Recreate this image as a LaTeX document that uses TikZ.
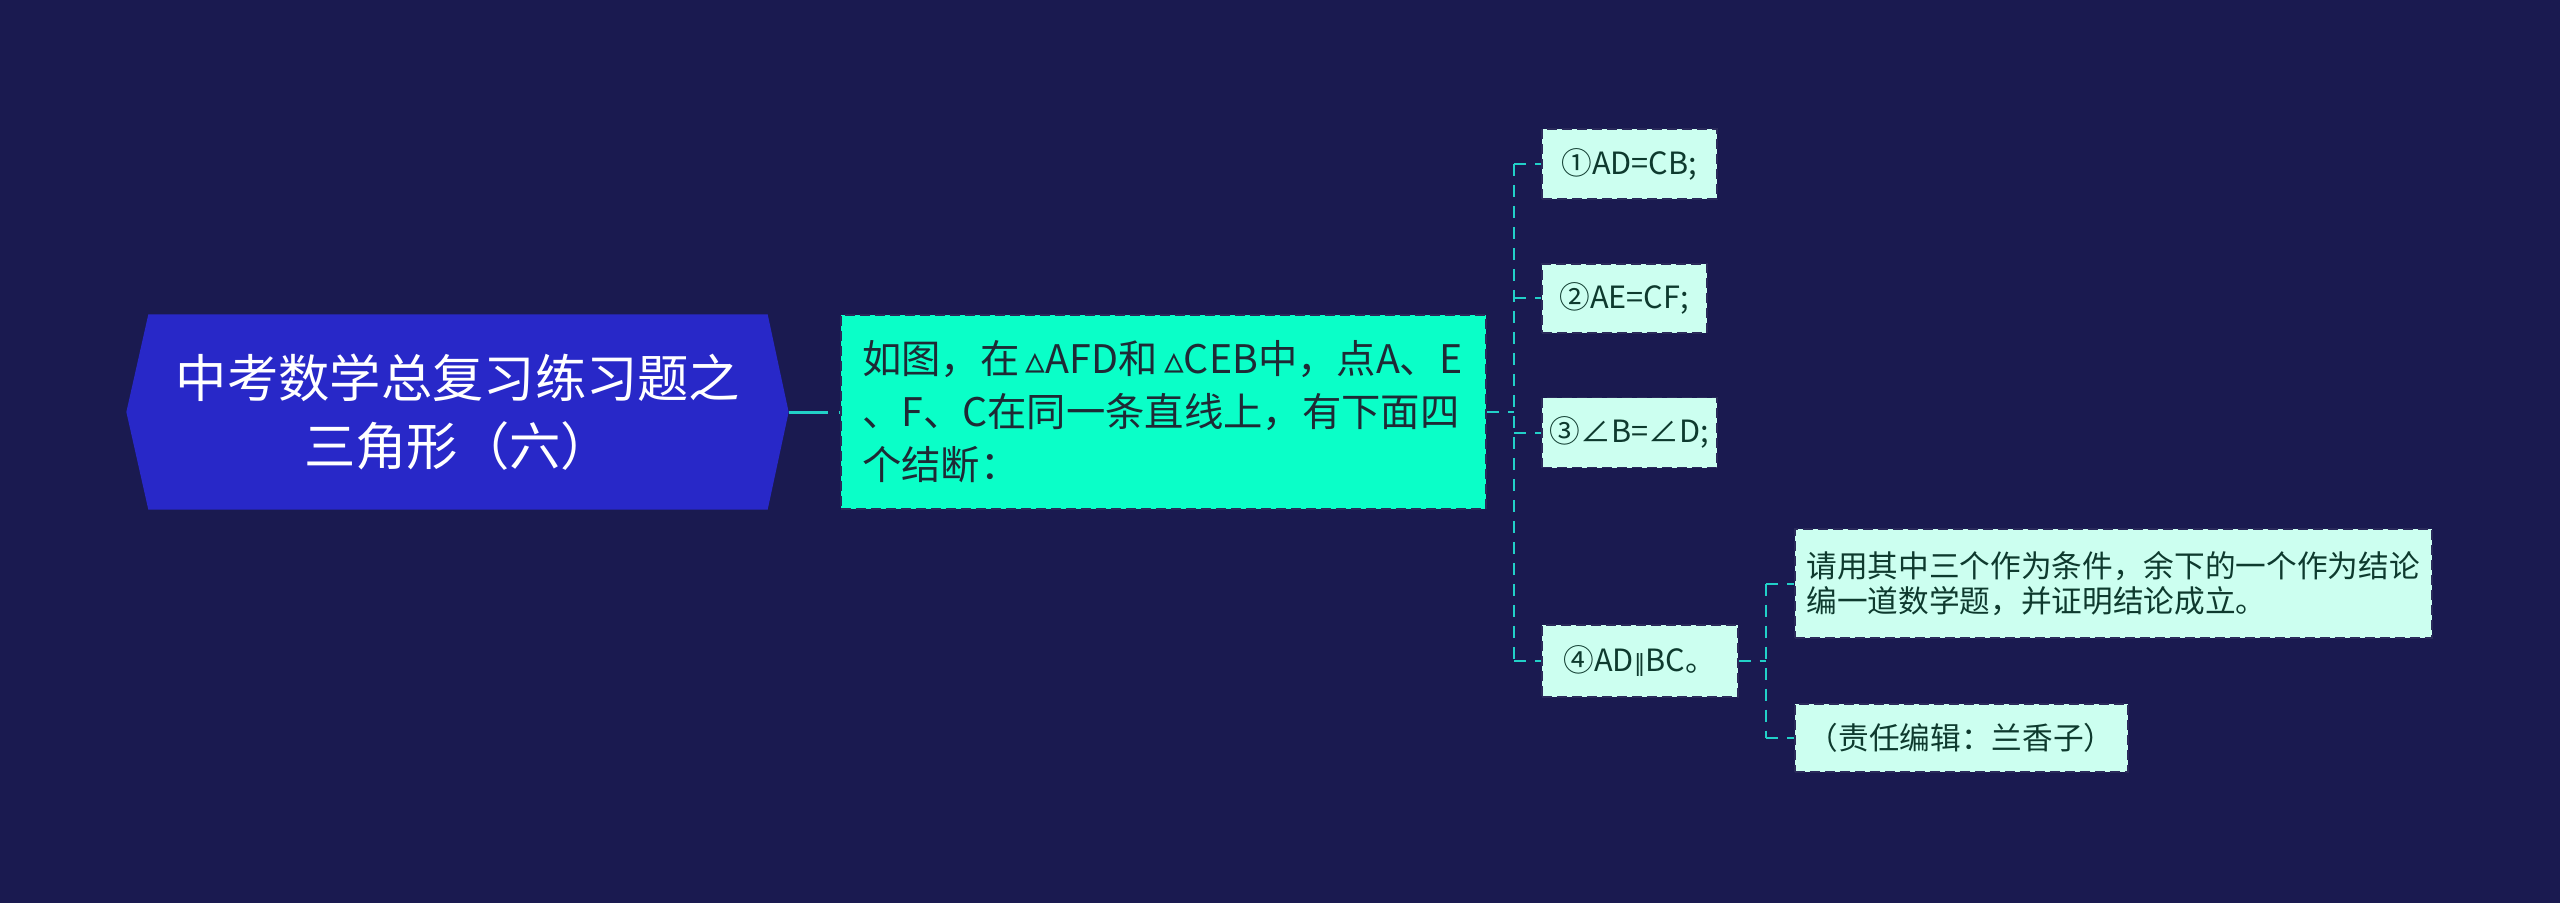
\documentclass[tikz,border=0pt]{standalone}
\usepackage{fontspec}
\newfontfamily\cjk{Noto Sans CJK SC}
\newfontfamily\dv{DejaVu Sans}
\usetikzlibrary{backgrounds}
\definecolor{bgc}{HTML}{1A1A50}
\definecolor{rootc}{HTML}{2828C8}
\definecolor{mainc}{HTML}{0AFFC8}
\definecolor{subc}{HTML}{CCFFF0}
\definecolor{linec}{HTML}{22D0C8}
\definecolor{bordc}{HTML}{2A2A5A}
\definecolor{maintext}{HTML}{1E2A35}
\definecolor{subtext}{HTML}{0E3A2E}
\begin{document}
\begin{tikzpicture}[x=0.3pt,y=-0.3pt,
  rootnode/.style={minimum width=185.4pt, minimum height=58.2pt, inner sep=0pt, align=center, text=white, font=\cjk\fontsize{15.4}{20.4}\selectfont},
  mainnode/.style={draw=bordc, line width=0.45pt, dash pattern=on 3pt off 1.5pt, fill=mainc, text width=180.9pt, inner xsep=6.3pt, inner ysep=0pt, minimum height=58.2pt, align=left, text=maintext, font=\cjk\fontsize{11.8}{15.9}\selectfont},
  subnode/.style={draw=bordc, line width=0.45pt, dash pattern=on 3pt off 1.5pt, fill=subc, inner sep=0pt, anchor=west, align=left, text=subtext, font=\cjk\fontsize{9.2}{10.5}\selectfont},
  conn/.style={draw=linec, line width=0.9pt, dash pattern=on 11.7pt off 3.3pt},
  thinconn/.style={draw=linec, line width=0.6pt, dash pattern=on 3.6pt off 2.7pt}
]
\useasboundingbox (0,0) rectangle (2560,903);
\begin{pgfonlayer}{background}
\fill[bgc] (0,0) rectangle (2560,903);
\end{pgfonlayer}

\node[rootnode] (root) at (458,412) {中考数学总复习练习题之\\三角形（六）};
\begin{pgfonlayer}{background}
\fill[rootc] (root.north west) -- (root.north east) -- ([xshift=6.3pt]root.east) -- (root.south east) -- (root.south west) -- ([xshift=-6.6pt]root.west) -- cycle;
\end{pgfonlayer}
\coordinate (rtip) at ([xshift=6.3pt]root.east);

\node[mainnode] (main) at (1163.5,412) {如图，在{\dv\,▵}AFD和{\dv\,▵}CEB中，点A、E\\、F、C在同一条直线上，有下面四\\个结断：};

\node[subnode, minimum width=52.5pt, minimum height=21pt] (s1) at (1541,164) {①AD=CB;};
\node[subnode, minimum width=49.5pt, minimum height=20.7pt] (s2) at (1541,298.5) {②AE=CF;};
\node[subnode, minimum width=52.5pt, minimum height=21pt] (s3) at (1541,432.5) {③∠B=∠D;};
\node[subnode, minimum width=58.8pt, minimum height=21.6pt] (s4) at (1541,661) {④AD{\dv\fontsize{7}{8}\selectfont ∥}BC。};
\node[subnode, minimum width=191.1pt, minimum height=32.7pt] (s5) at (1794,583.5) {请用其中三个作为条件，余下的一个作为结论\\编一道数学题，并证明结论成立。};
\node[subnode, minimum width=99.9pt, minimum height=20.4pt] (s6) at (1794,738) {（责任编辑：兰香子）};

\draw[conn] (rtip) -- (main.west);

\coordinate (j1) at (1514,412);
\draw[thinconn] (main.east) -- (j1);
\draw[thinconn] (j1 |- s1.west) -- (j1 |- s4.west);
\draw[thinconn] (j1 |- s1.west) -- (s1.west);
\draw[thinconn] (j1 |- s2.west) -- (s2.west);
\draw[thinconn] (j1 |- s3.west) -- (s3.west);
\draw[thinconn] (j1 |- s4.west) -- (s4.west);

\coordinate (j2) at (1766,661);
\draw[thinconn] (s4.east) -- (j2);
\draw[thinconn] (j2 |- s5.west) -- (j2 |- s6.west);
\draw[thinconn] (j2 |- s5.west) -- (s5.west);
\draw[thinconn] (j2 |- s6.west) -- (s6.west);
\end{tikzpicture}
\end{document}
